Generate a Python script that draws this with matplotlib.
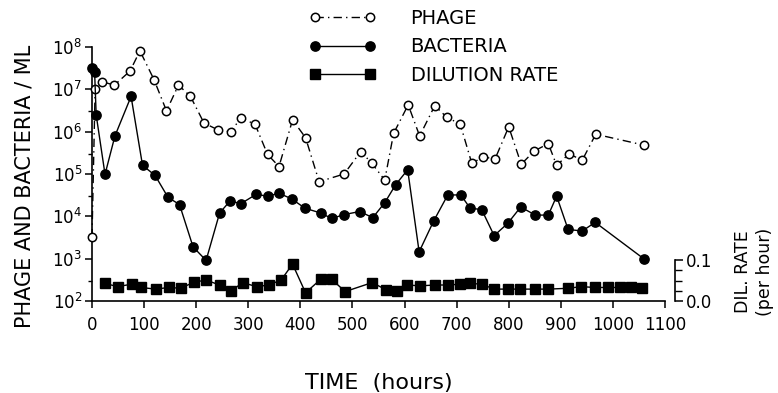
import matplotlib
matplotlib.use('Agg')
import matplotlib.pyplot as plt
from matplotlib.ticker import FixedLocator, LogLocator, NullFormatter

plt.rcParams['font.family'] = 'DejaVu Sans'

# time in hours
phage_t = [0, 6, 20, 43, 73, 92, 119, 143, 166, 189, 215, 242, 266, 286, 313, 337, 359,
           385, 410, 436, 484, 516, 537, 562, 579, 607, 629, 658, 681, 707, 729, 751,
           774, 800, 824, 849, 876, 892, 916, 941, 967, 1060]
phage = [3.2e3, 1.0e7, 1.5e7, 1.26e7, 2.7e7, 8.1e7, 1.7e7, 3.1e6, 1.26e7, 6.8e6, 1.6e6,
         1.1e6, 1.0e6, 2.1e6, 1.5e6, 2.9e5, 1.5e5, 1.9e6, 7.2e5, 6.6e4, 1.0e5, 3.4e5,
         1.8e5, 7.2e4, 9.1e5, 4.3e6, 7.9e5, 4.1e6, 2.2e6, 1.5e6, 1.8e5, 2.5e5, 2.3e5,
         1.3e6, 1.7e5, 3.5e5, 5.2e5, 1.6e5, 3.0e5, 2.1e5, 8.7e5, 4.8e5]

bact_t = [0, 5, 8, 25, 44, 75, 97, 121, 146, 168, 194, 219, 245, 265, 286, 315, 337, 359,
          383, 409, 439, 460, 484, 514, 539, 562, 583, 606, 628, 656, 683, 708, 726, 748,
          772, 798, 823, 851, 876, 892, 914, 941, 966, 1059]
bacteria = [3.2e7, 2.6e7, 2.5e6, 9.8e4, 7.9e5, 6.8e6, 1.6e5, 9.3e4, 2.8e4, 1.9e4, 1.9e3,
            9.1e2, 1.2e4, 2.3e4, 2.0e4, 3.3e4, 3.0e4, 3.5e4, 2.6e4, 1.55e4, 1.2e4, 8.9e3,
            1.1e4, 1.3e4, 9.3e3, 2.1e4, 5.6e4, 1.26e5, 1.45e3, 7.8e3, 3.2e4, 3.2e4, 1.55e4,
            1.45e4, 3.5e3, 6.8e3, 1.66e4, 1.07e4, 1.07e4, 3.0e4, 4.9e3, 4.5e3, 7.2e3, 1.0e3]

dil_t = [25, 49, 76, 94, 122, 148, 170, 196, 219, 245, 267, 289, 316, 339, 363, 385, 410,
         439, 460, 486, 538, 565, 586, 605, 630, 659, 684, 707, 726, 748, 772, 798, 822,
         850, 876, 914, 939, 966, 990, 1013, 1035, 1055]
dil_rate = [0.043, 0.035, 0.041, 0.033, 0.029, 0.033, 0.031, 0.046, 0.051, 0.039, 0.024,
            0.045, 0.035, 0.039, 0.051, 0.090, 0.020, 0.053, 0.053, 0.023, 0.045, 0.027,
            0.025, 0.039, 0.037, 0.039, 0.039, 0.041, 0.043, 0.041, 0.029, 0.029, 0.029,
            0.029, 0.029, 0.031, 0.035, 0.033, 0.033, 0.033, 0.033, 0.031]

x_ticks = list(range(0, 1101, 100))

fig = plt.figure(figsize=(7.78, 3.93), dpi=100)
ax = fig.add_axes([92 / 778, 92 / 393, 573 / 778, 254 / 393])

l_phage, = ax.plot(phage_t, phage, color='black', linestyle=(0, (6, 3, 1, 3)), lw=1.0,
                   marker='o', ms=6, mfc='white', mec='black', mew=1.1, clip_on=False,
                   zorder=3)
l_bact, = ax.plot(bact_t, bacteria, color='black', lw=1.0, marker='o', ms=6.7,
                  mfc='black', mec='black', clip_on=False, zorder=4)

ax.set_yscale('log')
ax.set_ylim(1e2, 1e8)
ax.set_xlim(0, 1100)
ax.yaxis.set_major_locator(LogLocator(base=10, numticks=10))
ax.yaxis.set_minor_locator(LogLocator(base=10, subs=(3.0,), numticks=10))
ax.yaxis.set_minor_formatter(NullFormatter())
ax.set_xticks(x_ticks)
ax.set_xticklabels([str(v) for v in x_ticks])
for s in ['top', 'right']:
    ax.spines[s].set_visible(False)
ax.spines['left'].set_linewidth(1.2)
ax.spines['bottom'].set_linewidth(1.2)
ax.tick_params(axis='both', which='major', length=5, width=1.1, labelsize=12, pad=2)
ax.tick_params(axis='y', which='minor', length=3, width=1.0)
ax.tick_params(axis='x', pad=6)

ax.set_ylabel('PHAGE AND BACTERIA / ML', fontsize=15)
ax.yaxis.set_label_coords(-0.101, 0.45)
ax.set_xlabel('TIME  (hours)', fontsize=16, labelpad=28)

# dilution rate on its own small scale
ax2 = ax.twinx()
l_dil, = ax2.plot(dil_t, dil_rate, color='black', lw=1.0, marker='s', ms=6.5,
                  mfc='black', mec='black', clip_on=False, zorder=4)
ax2.set_ylim(0, 254 / 410)
for s in ['top', 'left', 'bottom']:
    ax2.spines[s].set_visible(False)
ax2.spines['right'].set_position(('outward', 7))
ax2.spines['right'].set_bounds(0, 0.1)
ax2.spines['right'].set_linewidth(1.2)
ax2.set_yticks([0.0, 0.1])
ax2.set_yticklabels(['0.0', '0.1'])
ax2.yaxis.set_minor_locator(FixedLocator([0.025, 0.05, 0.075]))
ax2.tick_params(axis='y', which='major', length=6, width=1.1, labelsize=12, pad=2)
ax2.tick_params(axis='y', which='minor', length=5, width=1.0)
ax2.text(1.156, 0.115, 'DIL. RATE\n(per hour)', transform=ax2.transAxes, rotation=90,
         ha='center', va='center', fontsize=12.5, linespacing=1.3)

leg = ax.legend([l_phage, l_bact, l_dil], ['PHAGE', 'BACTERIA', 'DILUTION RATE'],
                loc='upper left', bbox_to_anchor=(0.349, 1.22), frameon=False,
                numpoints=2, handlelength=3.4, handletextpad=1.8, labelspacing=0.5,
                fontsize=14)

fig.savefig('out.png', dpi=100)
